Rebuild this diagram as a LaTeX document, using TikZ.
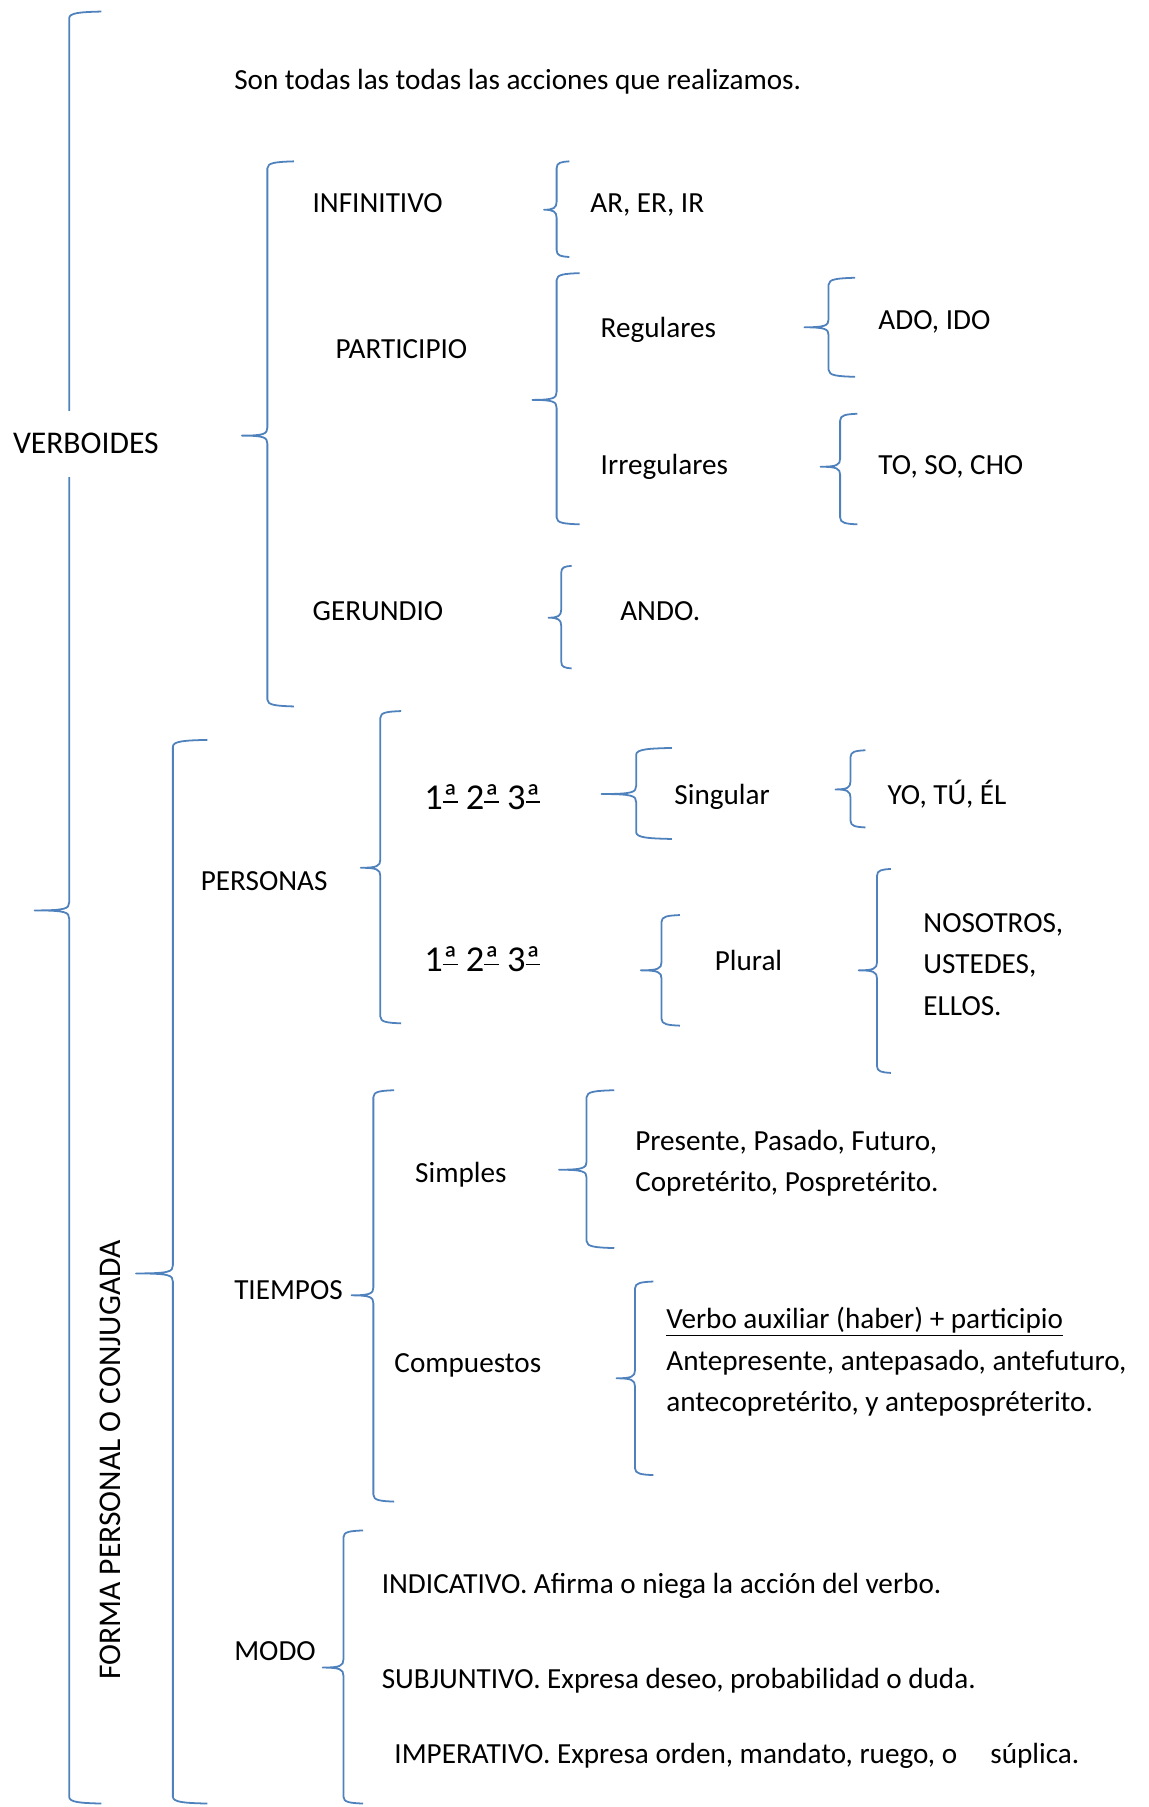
\documentclass[tikz,border=0pt]{standalone}
\usepackage{fontspec}
\setmainfont{Carlito}
\usepackage{xcolor}
\usepackage{tikz}
\definecolor{wordBlue}{RGB}{79,129,189}
\tikzstyle{tsText} = [
    text=black,
    font=\fontsize{18}{22}\selectfont,
    inner sep=0pt,
    anchor=base west
]
\tikzstyle{tsBigText} = [
    tsText,
    font=\fontsize{19.5}{23}\selectfont
]
\tikzstyle{tsOrdText} = [
    tsText,
    font=\fontsize{22.5}{26}\selectfont
]
\tikzstyle{tsBrace} = [
    draw=wordBlue,
    line width=1.1pt,
    line join=round
]
% underlined ordinal a
\newcommand{\orda}{\setbox0=\hbox{ª}\rlap{\rule[0.17em]{\wd0}{0.045em}}ª}
% brace: x, top, bottom, tip x, tip y, hook end x
\newcommand{\wordbrace}[6]{%
  \draw[tsBrace] (#6,#2) .. controls ({#1+0.35*(#6-#1)},{#2+0.5}) and (#1,{#2+1}) .. (#1,{#2+6})
    -- (#1,{#5-7}) .. controls (#1,{#5-1.5}) and ({#1-3},#5) .. (#4,#5)
    .. controls ({#1-3},#5) and (#1,{#5+1.5}) .. (#1,{#5+7})
    -- (#1,{#3-6}) .. controls (#1,{#3-1}) and ({#1+0.35*(#6-#1)},{#3-0.5}) .. (#6,#3);}

\begin{document}
\begin{tikzpicture}[x=0.025cm, y=-0.025cm]

        \useasboundingbox (0,0) rectangle (997,1568);

        % braces
        \wordbrace{60}{10}{1565}{30}{790}{88}
        \wordbrace{232}{140}{613}{210}{378}{255}
        \wordbrace{483}{140}{223}{472}{182}{494}
        \wordbrace{483}{237}{455}{462}{347}{503}
        \wordbrace{719}{241}{327}{698}{284}{742}
        \wordbrace{729}{359}{455}{712}{405}{744}
        \wordbrace{487}{491}{580}{476}{536}{496}
        \wordbrace{150}{642}{1565}{118}{1105}{180}
        \wordbrace{330}{617}{888}{313}{753}{348}
        \wordbrace{552}{649}{728}{522}{689}{583}
        \wordbrace{738}{651}{718}{725}{685}{751}
        \wordbrace{574}{794}{890}{556}{842}{590}
        \wordbrace{761}{754}{931}{745}{842}{773}
        \wordbrace{324}{946}{1303}{305}{1124}{342}
        \wordbrace{509}{946}{1083}{485}{1015}{533}
        \wordbrace{551}{1112}{1280}{535}{1196}{567}
        \wordbrace{298}{1328}{1565}{280}{1447}{315}

        % verboides
        \node[tsBigText, anchor=west, fill=white, minimum height=1.425cm] (verboides) at (11,385) {VERBOIDES};
        \node[tsText] (definicion) at (203,78) {Son todas las todas las acciones que realizamos.};

        \node[tsText] (infinitivo) at (271,184) {INFINITIVO};
        \node[tsText] (participio) at (291,311) {PARTICIPIO};
        \node[tsText] (gerundio) at (271,538) {GERUNDIO};

        \node[tsText] (arerir) at (512,184) {AR, ER, IR};
        \node[tsText] (regulares) at (521,293) {Regulares};
        \node[tsText] (irregulares) at (521,412) {Irregulares};
        \node[tsText] (adoido) at (762,286) {ADO, IDO};
        \node[tsText] (tosocho) at (762,412) {TO, SO, CHO};
        \node[tsText] (ando) at (538,538) {ANDO.};

        % forma personal
        \node[tsBigText, anchor=center, rotate=90] (forma) at (96,1267) {FORMA PERSONAL O CONJUGADA};

        \node[tsText] (personas) at (174,773) {PERSONAS};
        \node[tsOrdText] (ordsing) at (368,702) {1\orda{} 2\orda{} 3\orda};
        \node[tsOrdText] (ordplur) at (368,843) {1\orda{} 2\orda{} 3\orda};
        \node[tsText] (singular) at (585,698) {Singular};
        \node[tsText] (yotuel) at (770,698) {YO, TÚ, ÉL};
        \node[tsText] (plural) at (620,842) {Plural};
        \node[tsText] (nosotros) at (801,809) {NOSOTROS,};
        \node[tsText] (ustedes) at (801,845) {USTEDES,};
        \node[tsText] (ellos) at (801,881) {ELLOS.};

        \node[tsText] (tiempos) at (203,1128) {TIEMPOS};
        \node[tsText] (simples) at (360,1026) {Simples};
        \node[tsText] (compuestos) at (342,1191) {Compuestos};
        \node[tsText] (presente) at (551,998) {Presente, Pasado, Futuro,};
        \node[tsText] (copreterito) at (551,1034) {Copretérito, Pospretérito.};
        \node[tsText] (verboaux) at (578,1153) {\underline{Verbo auxiliar (haber) + participio}};
        \node[tsText] (antepresente) at (578,1189) {Antepresente, antepasado, antefuturo,};
        \node[tsText] (antecopreterito) at (578,1225) {antecopretérito, y antepospréterito.};

        \node[tsText] (modo) at (203,1441) {MODO};
        \node[tsText] (indicativo) at (331,1383) {INDICATIVO. Afirma o niega la acción del verbo.};
        \node[tsText] (subjuntivo) at (331,1465) {SUBJUNTIVO. Expresa deseo, probabilidad o duda.};
        \node[tsText] (imperativo) at (342,1530) {IMPERATIVO. Expresa orden, mandato, ruego, o\hspace*{0.72cm}súplica.};

\end{tikzpicture}
\end{document}
